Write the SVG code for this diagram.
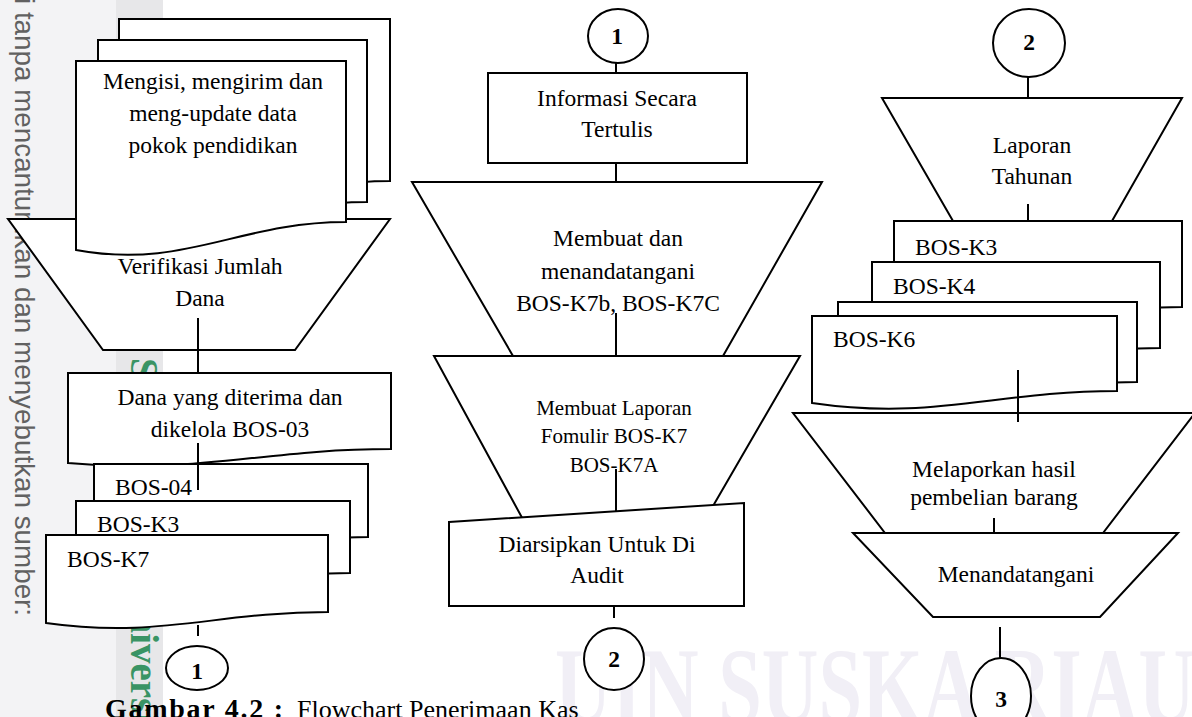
<svg xmlns="http://www.w3.org/2000/svg" width="1192" height="717" viewBox="0 0 1192 717">
<style>
.s{fill:#fff;stroke:#000;stroke-width:2}
.t{font-family:"Liberation Serif","Times New Roman",serif;font-size:23.5px;fill:#000;text-anchor:middle}
.l{text-anchor:start}
.sm{font-size:21px}
.n{font-weight:bold}
.c{stroke:#000;stroke-width:2;fill:none}
.wm{font-family:"Liberation Sans",Arial,sans-serif;font-size:27.8px;fill:#616161}
</style>
<rect x="0" y="0" width="1192" height="717" fill="#fff"/>
<g id="watermark">
<rect x="0" y="0" width="116" height="717" fill="#f3f3f5"/>
<rect x="116" y="0" width="47" height="717" fill="#e7e7e9"/>
<text class="wm" transform="translate(15,-2) rotate(90)">i tanpa mencantumkan dan menyebutkan sumber:</text>
<text transform="translate(131,358) rotate(90)" font-family="Liberation Serif,serif" font-weight="bold" font-size="39" fill="#3a9464">State Islamic University</text>
<text x="555" y="724" font-family="Liberation Serif,serif" font-weight="bold" font-size="110" fill="#f1eff6" textLength="640" lengthAdjust="spacingAndGlyphs">UIN SUSKA RIAU</text>
</g>
<g id="verifikasi">
<polygon class="s" points="8,219 390,219 295,350 103,350"/>
<text class="t" x="200" y="274">Verifikasi Jumlah</text>
<text class="t" x="200" y="306">Dana</text>
</g>
<g id="mengisi">
<path class="s" d="M119,19 H390 V181 C282,181 227,229 119,209 Z"/>
<path class="s" d="M98,40 H367 V202 C259,202 206,250 98,230 Z"/>
<path class="s" d="M76,61 H346 V222 C238,222 184,270 76,250 Z"/>
<text class="t" x="213" y="89">Mengisi, mengirim dan</text>
<text class="t" x="213" y="121">meng-update data</text>
<text class="t" x="213" y="153">pokok pendidikan</text>
</g>
<g id="dana">
<path class="s" d="M68,373 H391 V449 C262,449 197,475 68,463 Z"/>
<text class="t" x="230" y="405">Dana yang diterima dan</text>
<text class="t" x="230" y="437">dikelola BOS-03</text>
</g>
<g id="bos04">
<path class="s" d="M94,464 H368 V537 C258,537 204,563 94,551 Z"/>
<text class="t l" x="115" y="495">BOS-04</text>
</g>
<g id="bosk3-left">
<path class="s" d="M76,501 H350 V573 C240,573 186,599 76,587 Z"/>
<text class="t l" x="97" y="532">BOS-K3</text>
</g>
<g id="bosk7">
<path class="s" d="M46,535 H328 V612 C215,612 159,639 46,623 Z"/>
<text class="t l" x="67" y="567">BOS-K7</text>
</g>
<g id="conn1-out">
<ellipse class="s" cx="197" cy="668" rx="31" ry="22"/>
<text class="t n" x="197" y="679" font-size="18">1</text>
</g>
<g id="conn1-in">
<ellipse class="s" cx="618" cy="36" rx="30" ry="27"/>
<text class="t n" x="617" y="44" font-size="18">1</text>
</g>
<g id="informasi">
<rect class="s" x="488" y="73" width="259" height="90"/>
<text class="t" x="617" y="106">Informasi Secara</text>
<text class="t" x="617" y="137">Tertulis</text>
</g>
<g id="membuat-ttd">
<polygon class="s" points="412,182 822,182 723,356 513,356"/>
<text class="t" x="618" y="246">Membuat dan</text>
<text class="t" x="618" y="279">menandatangani</text>
<text class="t" x="618" y="311">BOS-K7b, BOS-K7C</text>
</g>
<g id="membuat-laporan">
<polygon class="s" points="434,356 800,356 702,525 526,525"/>
<text class="t sm" x="614" y="415">Membuat Laporan</text>
<text class="t sm" x="614" y="443">Fomulir BOS-K7</text>
<text class="t sm" x="614" y="472">BOS-K7A</text>
</g>
<g id="diarsipkan">
<polygon class="s" points="449,522 744,503 744,606 449,606"/>
<text class="t" x="597" y="552">Diarsipkan Untuk Di</text>
<text class="t" x="597" y="583">Audit</text>
</g>
<g id="conn2-out">
<ellipse class="s" cx="614" cy="659" rx="30" ry="31"/>
<text class="t n" x="614" y="667" font-size="22">2</text>
</g>
<g id="conn2-in">
<ellipse class="s" cx="1029" cy="43" rx="36" ry="34"/>
<text class="t n" x="1029" y="50" font-size="23">2</text>
</g>
<g id="laporan-tahunan">
<polygon class="s" points="882,98 1182,98 1112,221 953,221"/>
<text class="t" x="1032" y="153">Laporan</text>
<text class="t" x="1032" y="184">Tahunan</text>
</g>
<g id="bos-stack-right">
<path class="s" d="M894,221 H1182 V307 C1067,307 1009,333 894,321 Z"/>
<text class="t l" x="915" y="255">BOS-K3</text>
<path class="s" d="M872,262 H1160 V348 C1045,348 987,374 872,362 Z"/>
<text class="t l" x="893" y="294">BOS-K4</text>
<path class="s" d="M838,302 H1137 V382 C1017,382 958,408 838,396 Z"/>
<path class="s" d="M812,316 H1117 V391 C995,391 934,421 812,403 Z"/>
<text class="t l" x="833" y="347">BOS-K6</text>
</g>
<g id="melaporkan">
<polygon class="s" points="793,413 1195,413 1103,533 885,533"/>
<text class="t" x="994" y="477">Melaporkan hasil</text>
<text class="t" x="994" y="505">pembelian barang</text>
</g>
<g id="menandatangani">
<polygon class="s" points="853,533 1178,533 1100,617 933,617"/>
<text class="t" x="1016" y="582">Menandatangani</text>
</g>
<g id="conn3">
<ellipse class="s" cx="1001" cy="696" rx="30" ry="38"/>
<text class="t n" x="1001" y="707" font-size="22">3</text>
</g>
<g id="connectors">
<line class="c" x1="198" y1="318" x2="198" y2="372"/>
<line class="c" x1="198" y1="443" x2="198" y2="490"/>
<line class="c" x1="198" y1="625" x2="198" y2="636"/>
<line class="c" x1="616" y1="63" x2="616" y2="73"/>
<line class="c" x1="616" y1="163" x2="616" y2="182"/>
<line class="c" x1="616" y1="313" x2="616" y2="356"/>
<line class="c" x1="616" y1="469" x2="616" y2="511"/>
<line class="c" x1="614" y1="606" x2="614" y2="618"/>
<line class="c" x1="1028" y1="77" x2="1028" y2="98"/>
<line class="c" x1="1028" y1="204" x2="1028" y2="221"/>
<line class="c" x1="1018" y1="370" x2="1018" y2="422"/>
<line class="c" x1="994" y1="518" x2="994" y2="533"/>
<line class="c" x1="1000" y1="627" x2="1000" y2="658"/>
</g>
<g id="caption">
<text font-family="Liberation Serif,'Times New Roman',serif" y="718"><tspan x="105" font-weight="bold" font-size="28" textLength="178">Gambar 4.2 :</tspan><tspan x="297" font-size="26">Flowchart Penerimaan Kas</tspan></text>
</g>
</svg>
